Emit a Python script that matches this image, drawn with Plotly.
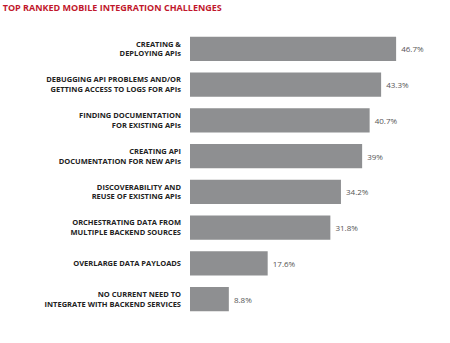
import plotly.graph_objects as go

# Survey results: share of respondents naming each challenge
challenges = [
    "CREATING &<br>DEPLOYING APIs",
    "DEBUGGING API PROBLEMS AND/OR<br>GETTING ACCESS TO LOGS FOR APIs",
    "FINDING DOCUMENTATION<br>FOR EXISTING APIs",
    "CREATING API<br>DOCUMENTATION FOR NEW APIs",
    "DISCOVERABILITY AND<br>REUSE OF EXISTING APIs",
    "ORCHESTRATING DATA FROM<br>MULTIPLE BACKEND SOURCES",
    "OVERLARGE DATA PAYLOADS",
    "NO CURRENT NEED TO<br>INTEGRATE WITH BACKEND SERVICES",
]
percent = [46.7, 43.3, 40.7, 39, 34.2, 31.8, 17.6, 8.8]
value_labels = ["46.7%", "43.3%", "40.7%", "39%", "34.2%", "31.8%", "17.6%", "8.8%"]

fig = go.Figure(
    go.Bar(
        x=percent,
        y=challenges,
        orientation="h",
        marker=dict(color="#8e8f91", line=dict(width=0)),
        text=[" " + t for t in value_labels],
        textposition="outside",
        textfont=dict(family="Open Sans", size=8, color="#555555"),
        cliponaxis=False,
        width=0.68,
    )
)

fig.update_layout(
    width=450,
    height=343,
    margin=dict(l=190, r=4, t=31, b=26),
    paper_bgcolor="white",
    plot_bgcolor="white",
    showlegend=False,
    title=dict(
        text="<b>TOP RANKED MOBILE INTEGRATION CHALLENGES</b>",
        font=dict(family="Open Sans", size=9, color="#c1172c"),
        x=0.006,
        xref="container",
        xanchor="left",
        y=0.977,
        yref="container",
        yanchor="middle",
    ),
    xaxis=dict(
        range=[0, 58],
        showgrid=False,
        zeroline=False,
        showticklabels=False,
        showline=False,
    ),
    yaxis=dict(
        autorange="reversed",
        showgrid=False,
        zeroline=False,
        showline=False,
        ticks="",
        ticklabelstandoff=8,
        tickfont=dict(family="Open Sans", size=7.5, color="#222222", weight="bold"),
    ),
    bargap=0.32,
)

fig.write_html("out.html")
